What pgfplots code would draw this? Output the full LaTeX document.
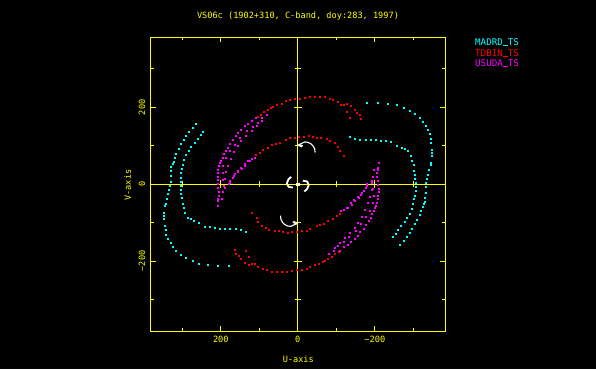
\documentclass[border=0pt]{standalone}
\usepackage{pgfplots}
\pgfplotsset{compat=1.18}
\usepackage{fontspec}
\setmainfont{DejaVu Sans Mono}
\definecolor{pgyel}{RGB}{255,255,0}
\definecolor{pgcyan}{RGB}{0,255,255}
\definecolor{pgred}{RGB}{255,0,0}
\definecolor{pgmag}{RGB}{255,0,255}
\newcommand{\lbl}{\fontsize{8.6bp}{10bp}\selectfont}
\newcommand{\us}{\rule[-0.2bp]{5bp}{0.9bp}}
\begin{document}
\begin{tikzpicture}[x=1bp,y=1bp]
\fill[black] (0,0) rectangle (596,369);
\path[use as bounding box] (0,0) rectangle (596,369);
% centre axes
\begin{axis}[at={(150.3bp,37.7bp)}, anchor=south west, scale only axis,
  width=295bp, height=294.3bp, xmin=-383, xmax=383, ymin=-383, ymax=383, x dir=reverse,
  axis lines=middle, axis line style={pgyel, line width=0.8bp, -},
  xtick={-200,0,200}, ytick={-200,0,200},
  minor xtick={-300,-100,100,300}, minor ytick={-300,-100,100,300},
  tick align=center, major tick length=8bp, minor tick length=6.6bp,
  tick style={pgyel, line width=0.8bp},
  xticklabel={}, yticklabel={}]
\end{axis}
\begin{axis}[at={(150.3bp,37.7bp)}, anchor=south west, scale only axis,
  width=295bp, height=294.3bp, xmin=-383, xmax=383, ymin=-383, ymax=383, x dir=reverse,
  axis line style={pgyel, line width=0.8bp},
  xtick={-200,0,200}, ytick={-200,0,200},
  minor xtick={-300,-100,100,300}, minor ytick={-300,-100,100,300},
  tick align=inside, major tick length=5.3bp, minor tick length=3.3bp,
  tick style={pgyel, line width=0.8bp},
  xticklabels={−200,0,200}, yticklabels={−200,0,200},
  ticklabel style={text=pgyel, font=\lbl},
  xticklabel style={anchor=north}, xticklabel shift={1.5bp},
  yticklabel style={rotate=90, anchor=south}, yticklabel shift={1.5bp},
  dots/.style={only marks, mark=square*, mark size=0.5bp, mark options={draw=none, fill=#1}, color=#1}]
% MADRD_TS (cyan)
\addplot[dots=pgcyan] coordinates {
(264,157) (274,147) (282,137) (290,126) (297,115) (303,104) (309,92) (316,80) (320,69) (323,59) (326,52) (329,46) (330,34) (331,22) (331,7) (332,-5) (334,-14) (337,-25) (341,-38) (344,-50) (346,-56) (348,-73) (348,-82) (347,-90) (346,-107) (344,-119) (342,-131) (337,-143) (331,-153) (324,-163) (316,-172) (303,-183) (290,-191) (274,-200) (257,-207) (234,-210) (208,-213) (180,-213)
(-264,-157) (-274,-147) (-282,-137) (-290,-126) (-297,-115) (-303,-104) (-309,-92) (-316,-80) (-320,-69) (-323,-59) (-326,-52) (-329,-46) (-330,-34) (-331,-22) (-331,-7) (-332,5) (-334,14) (-337,25) (-341,38) (-344,50) (-346,56) (-348,73) (-348,82) (-347,90) (-346,107) (-344,119) (-342,131) (-337,143) (-331,153) (-324,163) (-316,172) (-303,183) (-290,191) (-274,200) (-257,207) (-234,210) (-208,213) (-180,213)
(247,137) (253,128) (260,119) (268,109) (277,98) (284,87) (290,76) (295,63) (299,50) (301,39) (303,29) (305,17) (305,7) (305,-4) (304,-15) (303,-25) (302,-34) (300,-50) (297,-62) (293,-73) (286,-87) (278,-91) (270,-95) (257,-101) (242,-110) (229,-112) (216,-114) (203,-115) (190,-116) (176,-116) (162,-116) (148,-119) (134,-123)
(-247,-137) (-253,-128) (-260,-119) (-268,-109) (-277,-98) (-284,-87) (-290,-76) (-295,-63) (-299,-50) (-301,-39) (-303,-29) (-305,-17) (-305,-7) (-305,4) (-304,15) (-303,25) (-302,34) (-300,50) (-297,62) (-293,73) (-286,87) (-278,91) (-270,95) (-257,101) (-242,110) (-229,112) (-216,114) (-203,115) (-190,116) (-176,116) (-162,116) (-148,119) (-134,123)
};
% TDBIN_TS (red)
\addplot[dots=pgred] coordinates {
(105,175) (97,181) (88,189) (78,195) (71,198) (65,202) (55,208) (43,210) (32,216) (22,219) (9,222) (-4,223) (-17,226) (-30,227) (-43,228) (-56,228) (-69,227) (-82,223) (-90,219) (-103,215) (-112,208) (-120,206) (-127,210) (-138,204) (-127,189) (-147,193) (-153,187) (-160,182) (-164,171) (-136,174)
(-105,-175) (-97,-181) (-88,-189) (-78,-195) (-71,-198) (-65,-202) (-55,-208) (-43,-210) (-32,-216) (-22,-219) (-9,-222) (4,-223) (17,-226) (30,-227) (43,-228) (56,-228) (69,-227) (82,-223) (90,-219) (103,-215) (112,-208) (120,-206) (127,-210) (138,-204) (127,-189) (147,-193) (153,-187) (160,-182) (164,-171) (136,-174)
(110,76) (100,82) (91,89) (78,96) (67,102) (57,106) (48,109) (32,115) (22,120) (9,122) (-3,124) (-15,124) (-27,126) (-38,124) (-49,121) (-60,120) (-75,118) (-83,113) (-95,107) (-103,98) (-108,87) (-119,74)
(-110,-76) (-100,-82) (-91,-89) (-78,-96) (-67,-102) (-57,-106) (-48,-109) (-32,-115) (-22,-120) (-9,-122) (3,-124) (15,-124) (27,-126) (38,-124) (49,-121) (60,-120) (75,-118) (83,-113) (95,-107) (103,-98) (108,-87) (119,-74)
};
% USUDA_TS (magenta)
\addplot[dots=pgmag] coordinates {
(81,181) (94,172) (109,172) (120,164) (130,157) (138,151) (148,142) (155,133) (162,125) (170,115) (177,106) (183,96) (188,87) (192,78) (196,68) (200,60) (203,57) (205,47) (207,38) (208,29) (209,19) (209,12) (208,2) (207,-10) (206,-20) (205,-29) (207,-37) (208,-44) (209,-57)
(-81,-181) (-94,-172) (-109,-172) (-120,-164) (-130,-157) (-138,-151) (-148,-142) (-155,-133) (-162,-125) (-170,-115) (-177,-106) (-183,-96) (-188,-87) (-192,-78) (-196,-68) (-200,-60) (-203,-57) (-205,-47) (-207,-38) (-208,-29) (-209,-19) (-209,-12) (-208,-2) (-207,10) (-206,20) (-205,29) (-207,37) (-208,44) (-209,57)
(95,166) (103,159) (108,153) (118,150) (121,140) (133,138) (134,127) (147,114) (151,120) (156,101) (164,103) (166,84) (173,67) (177,86) (182,49) (187,68) (186,32) (194,47) (191,15) (196,29) (193,-3) (194,12) (191,-10) (195,-20) (197,-37)
(-95,-166) (-103,-159) (-108,-153) (-118,-150) (-121,-140) (-133,-138) (-134,-127) (-147,-114) (-151,-120) (-156,-101) (-164,-103) (-166,-84) (-173,-67) (-177,-86) (-182,-49) (-187,-68) (-186,-32) (-194,-47) (-191,-15) (-196,-29) (-193,3) (-194,-12) (-191,10) (-195,20) (-197,37)
(112,70) (120,66) (126,62) (129,60) (137,49) (139,53) (146,41) (148,44) (156,33) (157,35) (164,27) (166,22) (170,18) (177,9) (178,5) (180,0)
(-112,-70) (-120,-66) (-126,-62) (-129,-60) (-137,-49) (-139,-53) (-146,-41) (-148,-44) (-156,-33) (-157,-35) (-164,-27) (-166,-22) (-170,-18) (-177,-9) (-178,-5) (-180,0)
};
% white short-baseline tracks
\addplot[white, sharp plot, no marks, line width=1.1bp] coordinates {(-3,103) (-10,106) (-18,110) (-26,109) (-34,105) (-40,99) (-44,91) (-45,82)};
\addplot[white, sharp plot, no marks, line width=1.1bp] coordinates {(3,-103) (10,-106) (18,-110) (26,-109) (34,-105) (40,-99) (44,-91) (45,-82)};
\addplot[white, sharp plot, no marks, line width=2.2bp] coordinates {(-1,102) (-6,101) (-12,98)};
\addplot[white, sharp plot, no marks, line width=2.2bp] coordinates {(1,-102) (6,-101) (12,-98)};
\addplot[white, sharp plot, no marks, line width=1.8bp] coordinates {(17,19) (24,13) (28.5,2) (24,-7) (13,-9)};
\addplot[white, sharp plot, no marks, line width=1.8bp] coordinates {(-17,-19) (-24,-13) (-28.5,-2) (-24,7) (-13,9)};
\addplot[dots=white, mark size=1.3bp] coordinates {(0,0)};
\end{axis}
\node[text=pgyel, font=\lbl] at (298.3,10) {U-axis};
\node[text=pgyel, font=\lbl, rotate=90] at (127.7,184) {V-axis};
\node[text=pgyel, font=\lbl] at (298,353.3) {VS06c (1902+310, C-band, doy:283, 1997)};
\node[text=pgcyan, font=\fontsize{9.2bp}{10bp}\selectfont, anchor=west, inner sep=0pt] at (475,326.7) {\color{pgcyan}MADRD\us TS};
\node[text=pgred, font=\fontsize{9.2bp}{10bp}\selectfont, anchor=west, inner sep=0pt] at (475,315.7) {\color{pgred}TDBIN\us TS};
\node[text=pgmag, font=\fontsize{9.2bp}{10bp}\selectfont, anchor=west, inner sep=0pt] at (475,305.7) {\color{pgmag}USUDA\us TS};
\end{tikzpicture}
\end{document}
